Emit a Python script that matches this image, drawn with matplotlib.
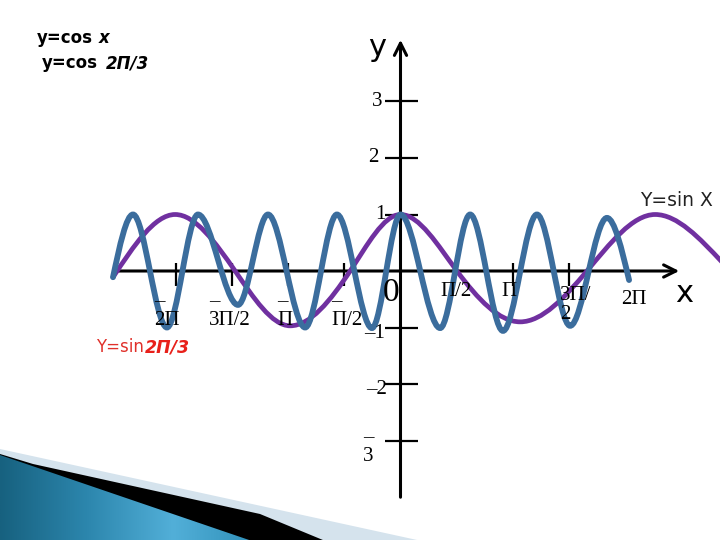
import numpy as np
import matplotlib
matplotlib.use('Agg')
import matplotlib.pyplot as plt
from matplotlib.path import Path
from matplotlib.patches import PathPatch, Polygon
from matplotlib.colors import LinearSegmentedColormap

PI = np.pi

# purple curve (y = sin x), key points: x in radians
sin_x = [-8.05, -6.31, -4.63, -3.09, -1.41, 0.0, 1.58, 3.35, 5.22, 7.13, 9.00]
sin_y = [-0.11, 1.00, 0.00, -0.97, 0.00, 1.00, 0.00, -0.90, 0.00, 1.00, 0.16]

# blue curve (y = sin 2Π/3 ...), peaks and troughs
fast_x = [-8.05, -7.49, -6.54, -5.67, -4.55, -3.71, -2.67, -1.78, -0.80, 0.00,
          1.11, 1.95, 2.87, 3.82, 4.75, 5.78, 6.40]
fast_y = [-0.11, 1.00, -1.00, 1.00, -0.60, 1.00, -1.00, 1.00, -1.01, 1.00,
          -1.01, 1.00, -1.06, 1.00, -0.97, 0.94, -0.16]

xtick_vals = [-2*PI, -1.5*PI, -PI, -0.5*PI, PI, 1.5*PI]
xlab_left = ['–\n2Π', '–\n3Π/2', '–\nΠ', '–\nΠ/2']
xlab_left_at = [-2*PI, -1.5*PI, -PI, -0.5*PI]
xlab_right = ['Π/2', 'Π', '3Π/\n2', '2Π']
xlab_right_at = [0.5*PI, PI, 1.5*PI, 2*PI]
ytick_vals = [3, 2, 1, -1, -2, -3]
ylab = ['3', '2', '1', '–1', '–2', '–\n3']

# pixel -> data helpers (layout only)
K = (PI/2)/56.1
def dx(px):
    return (px - 400.5)*K
def dy(py):
    return (271 - py)/56.5


def smooth(xs, ys):
    # cubic bezier through the key points, flat at peaks/troughs
    n = len(xs)
    m = np.zeros(n)
    for i in range(n):
        if 0 < i < n-1:
            if (ys[i]-ys[i-1])*(ys[i+1]-ys[i]) <= 0:
                m[i] = 0
            else:
                m[i] = 1.5*(ys[i+1]-ys[i-1])/(xs[i+1]-xs[i-1])
        else:
            j = 1 if i == 0 else n-1
            m[i] = 1.5*(ys[j]-ys[j-1])/(xs[j]-xs[j-1])
    verts = [(xs[0], ys[0])]
    codes = [Path.MOVETO]
    for i in range(n-1):
        h = (xs[i+1]-xs[i])/3
        verts += [(xs[i]+h, ys[i]+m[i]*h), (xs[i+1]-h, ys[i+1]-m[i+1]*h), (xs[i+1], ys[i+1])]
        codes += [Path.CURVE4]*3
    return Path(verts, codes)


fig = plt.figure(figsize=(7.2, 5.4), dpi=100)
ax = fig.add_axes([0, 0, 1, 1])
ax.set_xlim(dx(0), dx(720))
ax.set_ylim(dy(540), dy(0))
ax.axis('off')

# slide decoration bottom-left
light = Polygon([(dx(0), dy(449)), (dx(440), dy(545)), (dx(0), dy(545))],
                closed=True, fc='#d5e3ed', ec='none', zorder=0)
ax.add_patch(light)
dark = Polygon([(dx(0), dy(454)), (dx(33), dy(464)), (dx(260), dy(514)), (dx(335), dy(545)), (dx(0), dy(545))],
               closed=True, fc='black', ec='none', zorder=0.5)
ax.add_patch(dark)
tri = Polygon([(dx(0), dy(455)), (dx(255), dy(542)), (dx(0), dy(542))],
              closed=True, fc='none', ec='none', zorder=1)
ax.add_patch(tri)
cmap = LinearSegmentedColormap.from_list('slide', ['#17617f', '#2c86ad', '#52afd8', '#2e8fb8'])
im = ax.imshow(np.linspace(0, 1, 256).reshape(1, -1), cmap=cmap, aspect='auto',
               extent=[dx(0), dx(260), dy(545), dy(450)], zorder=0.8)
im.set_clip_path(tri)

# axes with arrows
ax.annotate('', xy=(dx(682), 0), xytext=(dx(112), 0),
            arrowprops=dict(arrowstyle='->', lw=2.2, color='black', mutation_scale=22), zorder=2)
ax.annotate('', xy=(0, dy(37)), xytext=(0, dy(500)),
            arrowprops=dict(arrowstyle='->', lw=2.2, color='black', mutation_scale=22), zorder=2)
ax.vlines(xtick_vals, dy(263), dy(286), color='black', lw=1.6, zorder=2)
ax.hlines(ytick_vals, dx(385), dx(418), color='black', lw=1.6, zorder=2)

# curves
ax.add_patch(PathPatch(smooth(sin_x, sin_y), fill=False, ec='#7030a0', lw=3.4,
                       capstyle='round', zorder=3))
ax.add_patch(PathPatch(smooth(fast_x, fast_y), fill=False, ec='#3b6d9d', lw=4.2,
                       capstyle='round', zorder=4))

serif = 'Liberation Serif'
for v, s, off in zip(xlab_left_at, xlab_left, [-22, -23, -11, -13]):
    ax.text(v + off*K, dy(311), s, family=serif, fontsize=15, ha='left', va='center',
            linespacing=1.0, zorder=5)
for v, s, off, py in zip(xlab_right_at, xlab_right, [-1, -4, -9, 9], [292, 292, 305, 300]):
    ha = 'left' if '\n' in s else 'center'
    ax.text(v + off*K, dy(py), s, family=serif, fontsize=15, ha=ha, va='center',
            linespacing=1.05, zorder=5)
ax.text(dx(391), dy(293), '0', family=serif, fontsize=24, ha='center', va='center', zorder=5)

for v, s, px in zip(ytick_vals, ylab, [377, 373, 380, 375, 377, 368]):
    ypos = v if v > 0 else v - 0.1
    if '\n' in s:
        ypos = dy(447)
    ax.text(dx(px), ypos, s, family=serif, fontsize=15, ha='center', va='center',
            linespacing=1.05, zorder=5)

ax.text(dx(377), dy(48), 'y', fontsize=22, ha='center', va='center', zorder=5)
ax.text(dx(684), dy(293), 'x', fontsize=22, ha='center', va='center', zorder=5)

ax.text(dx(640), dy(200), 'Y=sin X', fontsize=13.5, ha='left', va='center', color='#222222', zorder=5)

ax.text(dx(37), dy(38), 'y=cos', fontsize=12, weight='bold', ha='left', va='center', zorder=5)
ax.text(dx(99), dy(38), 'x', fontsize=12, weight='bold', style='italic', ha='left', va='center', zorder=5)
ax.text(dx(42), dy(63), 'y=cos', fontsize=12, weight='bold', ha='left', va='center', zorder=5)
ax.text(dx(106), dy(63), '2Π/3', fontsize=12, weight='bold', style='italic', ha='left', va='center', zorder=5)

ax.text(dx(96), dy(347), 'Y=sin', fontsize=12, color='#e0302a', ha='left', va='center', zorder=5)
ax.text(dx(145), dy(347), '2Π/3', fontsize=12.5, color='#e8201a', weight='bold', style='italic',
        ha='left', va='center', zorder=5)

fig.savefig('out.png', dpi=100)
